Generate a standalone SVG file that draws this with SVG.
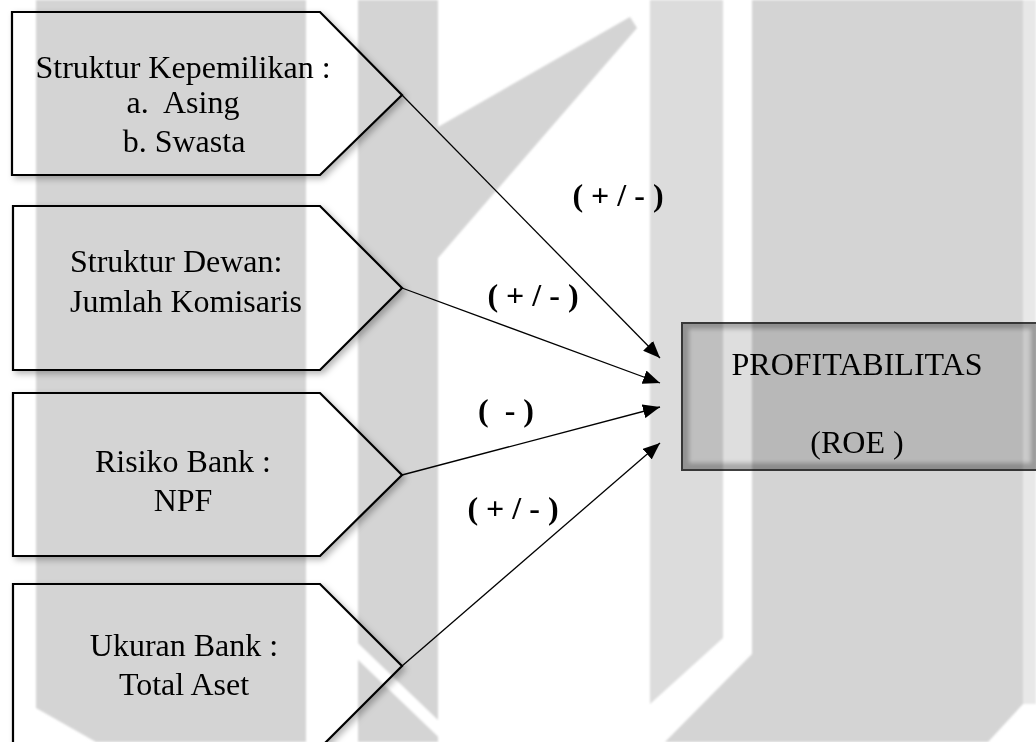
<svg xmlns="http://www.w3.org/2000/svg" width="1036" height="742" viewBox="0 0 1036 742">
<defs>
<style>
.shape{fill:#fff;stroke:#000;stroke-width:2.2;stroke-linejoin:miter;filter:url(#sh)}
.t{font-family:"Liberation Serif","Times New Roman",serif;font-size:32px;fill:#000}
.c{text-anchor:middle}
.lbl{font-family:"Liberation Serif","Times New Roman",serif;font-size:32px;font-weight:bold;fill:#000;text-anchor:middle}
.conn line{stroke:#000;stroke-width:1.3;marker-end:url(#ah)}
.wm{mix-blend-mode:multiply}
.wg{fill:#d4d4d4}
</style>
<filter id="sh" x="-10%" y="-10%" width="130%" height="130%">
<feDropShadow dx="3" dy="3" stdDeviation="3" flood-color="#000" flood-opacity="0.28"/>
</filter>
<filter id="soft" x="-5%" y="-5%" width="110%" height="110%">
<feGaussianBlur stdDeviation="2"/>
</filter>
<filter id="wblur" x="-5%" y="-5%" width="110%" height="110%">
<feGaussianBlur stdDeviation="1"/>
</filter>
<marker id="ah" viewBox="0 0 17 14" refX="17" refY="7" markerWidth="17" markerHeight="14" orient="auto" markerUnits="userSpaceOnUse">
<path d="M0,0 L17,7 L0,14 z" fill="#000"/>
</marker>
</defs>
<rect x="0" y="0" width="1036" height="742" fill="#fff"/>

<g id="node-struktur-kepemilikan">
<polygon class="shape" points="12,12 320,12 402,95 320,175 12,175"/>
<text class="t c" x="183" y="78">Struktur Kepemilikan :</text>
<text class="t c" x="183" y="113" xml:space="preserve">a.  Asing</text>
<text class="t c" x="184" y="152">b. Swasta</text>
</g>

<g id="node-struktur-dewan">
<polygon class="shape" points="13,206 320,206 402,288 320,370 13,370"/>
<text class="t" x="70" y="272">Struktur Dewan:</text>
<text class="t" x="70" y="312">Jumlah Komisaris</text>
</g>

<g id="node-risiko-bank">
<polygon class="shape" points="13,393 320,393 402,475 320,556 13,556"/>
<text class="t c" x="183" y="472">Risiko Bank :</text>
<text class="t c" x="183" y="511">NPF</text>
</g>

<g id="node-ukuran-bank">
<polygon class="shape" points="13,584 320,584 402,666 320,748 13,748"/>
<text class="t c" x="184" y="656">Ukuran Bank :</text>
<text class="t c" x="184" y="695">Total Aset</text>
</g>

<g id="node-profitabilitas">
<rect x="682" y="323" width="356" height="147" fill="#a9a9a9" stroke="#404040" stroke-width="2"/>
<rect x="689" y="329" width="342" height="134" fill="#dedede" filter="url(#soft)"/>
<text class="t c" x="857" y="375">PROFITABILITAS</text>
<text class="t c" x="857" y="453">(ROE )</text>
</g>

<g id="connectors" class="conn">
<line x1="402" y1="95" x2="660" y2="358"/>
<line x1="402" y1="288" x2="660" y2="383"/>
<line x1="402" y1="475" x2="660" y2="407"/>
<line x1="402" y1="666" x2="660" y2="443"/>
</g>

<g id="labels">
<text class="lbl" x="618" y="206" xml:space="preserve">( + / - )</text>
<text class="lbl" x="533" y="306" xml:space="preserve">( + / - )</text>
<text class="lbl" x="506" y="421" xml:space="preserve">(  - )</text>
<text class="lbl" x="513" y="519" xml:space="preserve">( + / - )</text>
</g>

<g id="watermark" class="wm" filter="url(#wblur)">
<polygon class="wg" points="36,0 306,0 306,742 96,742 36,708"/>
<rect class="wg" x="358" y="0" width="80" height="742"/>
<polygon class="wg" points="438,127 630,17 637,28 438,258"/>
<polygon fill="#dcdcdc" points="650,0 723,0 723,638 650,704"/>
<polygon class="wg" points="752,0 1023,0 1023,704 988,742 665,742 752,654"/>
<rect fill="#e8e8e8" x="1023" y="0" width="13" height="704"/>
<line x1="346" y1="640" x2="446" y2="736" stroke="#fff" stroke-width="12"/>
</g>
</svg>
